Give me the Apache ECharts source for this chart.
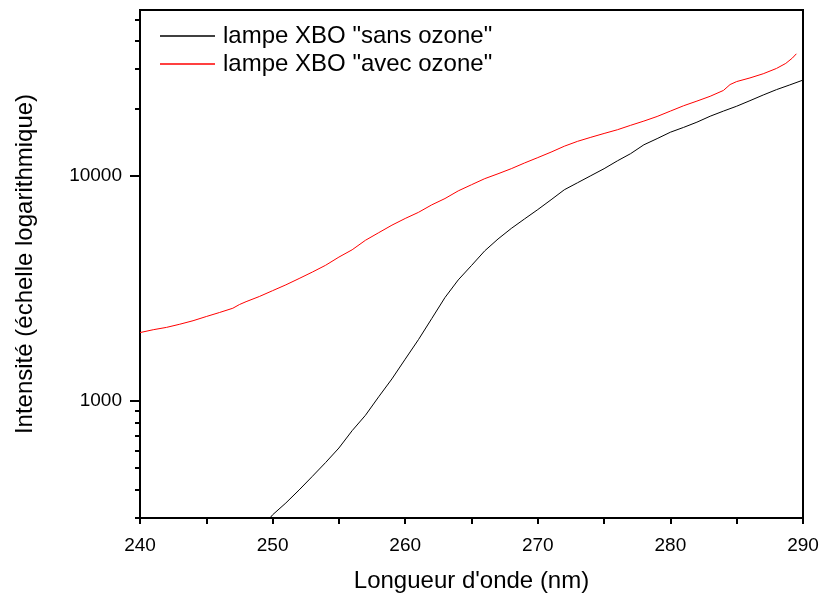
<!DOCTYPE html>
<html>
<head>
<meta charset="utf-8">
<script src="https://cdn.jsdelivr.net/npm/echarts@6/dist/echarts.min.js"></script>
<style>html,body{margin:0;padding:0;background:#fff}#c{width:822px;height:599px}</style>
</head>
<body>
<div id="c"></div>
<script>
const redX = [240,241,242,243,244,245,246,247,247.5,248,249,250,251,252,253,254,255,256,257,258,259,260,261,262,263,264,265,266,267,268,269,270,271,272,273,274,275,276,277,278,279,280,281,282,283,284,284.5,285,286,287,288,288.7,289.2,289.5];
const redY = [2010,2070,2120,2190,2270,2370,2470,2580,2680,2760,2910,3090,3280,3500,3740,4010,4360,4700,5180,5600,6050,6480,6900,7450,7950,8600,9160,9750,10250,10800,11450,12100,12800,13600,14300,14900,15500,16100,16850,17600,18450,19500,20600,21600,22700,24100,25600,26400,27400,28600,30200,31800,33600,35100];
const blackX = [249.7,250,251,252,253,254,255,256,257,258,259,260,261,262,263,264,265,266,267,268,269,270,271,272,273,274,275,276,277,278,279,280,281,282,283,284,285,286,287,288,289,290];
const blackY = [295,310,350,400,460,530,615,735,860,1040,1250,1530,1870,2320,2880,3450,4000,4650,5250,5850,6450,7100,7850,8700,9350,10050,10800,11700,12600,13800,14700,15700,16500,17400,18500,19500,20500,21700,23000,24300,25500,26800];
const yMajorTicks = [1000, 10000];
const yMinorTicks = [300,400,500,600,700,800,900,20000,30000,40000,50000];
const seriesNames = ['lampe XBO "sans ozone"', 'lampe XBO "avec ozone"'];

const FONT = "'Liberation Sans', Arial, sans-serif";
const chart = echarts.init(document.getElementById('c'), null, {renderer: 'canvas'});
const pair = (xs, ys) => xs.map((x, i) => [x, ys[i]]);

chart.setOption({
  animation: false,
  backgroundColor: '#fff',
  textStyle: {fontFamily: FONT, color: '#000'},
  grid: {left: 140, top: 10, right: 19, bottom: 81, outerBoundsMode: 'none', containLabel: false,
         show: true, borderColor: '#000', borderWidth: 2, backgroundColor: 'transparent'},
  legend: {
    orient: 'vertical', left: 160, top: 24, padding: 0, itemWidth: 55, itemHeight: 1.5, itemGap: 4,
    icon: 'rect',
    textStyle: {fontSize: 24, fontFamily: FONT, color: '#000', padding: [0, 0, 0, 3]},
    data: seriesNames
  },
  xAxis: {
    type: 'value', min: 240, max: 290, interval: 10,
    name: "Longueur d'onde (nm)", nameLocation: 'middle', nameGap: 51,
    nameTextStyle: {fontSize: 24, fontFamily: FONT, color: '#000'},
    axisLine: {show: true, lineStyle: {color: '#000', width: 2}},
    axisTick: {show: true, inside: false, length: 6, lineStyle: {color: '#000', width: 2}},
    minorTick: {show: true, splitNumber: 2, length: 6, lineStyle: {color: '#000', width: 2}},
    axisLabel: {fontSize: 19, fontFamily: FONT, color: '#000', margin: 18},
    splitLine: {show: false}, minorSplitLine: {show: false}
  },
  yAxis: [{
    type: 'log', logBase: 10, min: 300, max: 55000, position: 'left',
    name: 'Intensité (échelle logarithmique)', nameLocation: 'middle', nameGap: 103, nameRotate: 90,
    nameTextStyle: {fontSize: 24, fontFamily: FONT, color: '#000'},
    axisLine: {show: true, lineStyle: {color: '#000', width: 2}},
    axisTick: {show: true, inside: false, length: 10, customValues: yMajorTicks, lineStyle: {color: '#000', width: 2}},
    axisLabel: {fontSize: 19, fontFamily: FONT, color: '#000', margin: 18, customValues: yMajorTicks,
                formatter: v => String(Math.round(v))},
    splitLine: {show: false}
  }, {
    type: 'log', logBase: 10, min: 300, max: 55000, position: 'left', offset: 0,
    axisLine: {show: false},
    axisTick: {show: true, inside: false, length: 5, customValues: yMinorTicks, lineStyle: {color: '#000', width: 2}},
    axisLabel: {show: false},
    splitLine: {show: false}
  }],
  series: [{
    name: seriesNames[0], type: 'line', data: pair(blackX, blackY), yAxisIndex: 0,
    symbol: 'none', lineStyle: {color: '#000', width: 1}, itemStyle: {color: '#000'}, clip: true
  }, {
    name: seriesNames[1], type: 'line', data: pair(redX, redY), yAxisIndex: 0,
    symbol: 'none', lineStyle: {color: '#ff0000', width: 1}, itemStyle: {color: '#ff0000'}, clip: true
  }]
});
</script>
</body>
</html>
